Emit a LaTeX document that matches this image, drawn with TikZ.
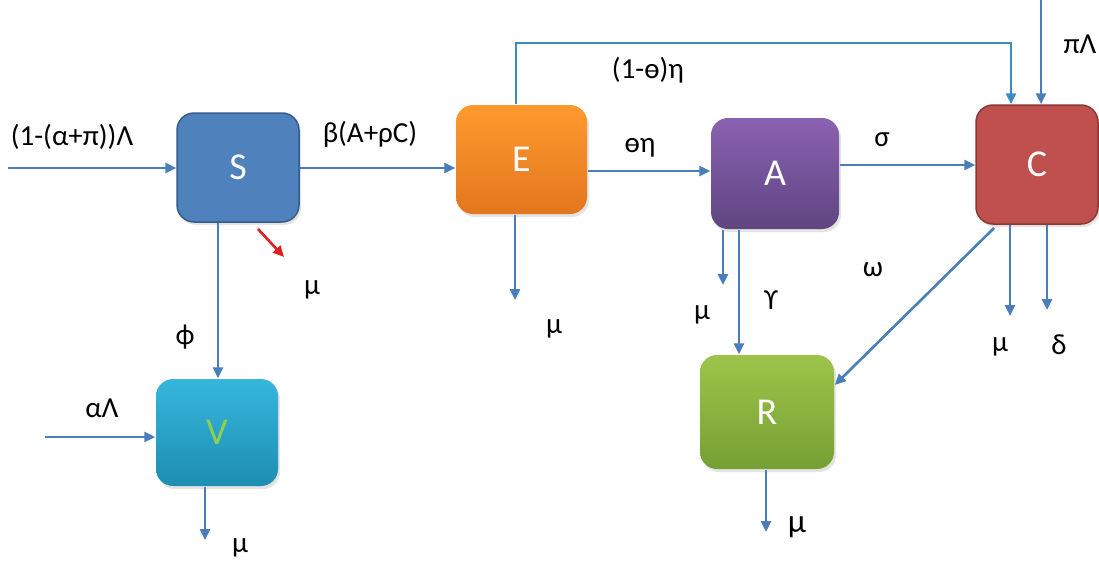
\documentclass[tikz,border=0pt]{standalone}
\usepackage{fontspec}
\setmainfont{Carlito}
\usetikzlibrary{arrows.meta,shadows}
\definecolor{ln}{HTML}{4A7EBB}
\definecolor{lnt}{HTML}{3B8CC0}
\definecolor{redar}{HTML}{E41E1E}
\definecolor{sfill}{HTML}{4F81BD}
\definecolor{sdraw}{HTML}{385D8A}
\definecolor{etop}{HTML}{FF9A2E}
\definecolor{ebot}{HTML}{E2761E}
\definecolor{atop}{HTML}{8A62B2}
\definecolor{abot}{HTML}{5E4580}
\definecolor{cfill}{HTML}{C0504D}
\definecolor{cdraw}{HTML}{8C3836}
\definecolor{rtop}{HTML}{9DC449}
\definecolor{rbot}{HTML}{76A034}
\definecolor{vtop}{HTML}{36B6DC}
\definecolor{vbot}{HTML}{1E8EB2}
\definecolor{vtext}{HTML}{8ED04E}
\begin{document}
\begin{tikzpicture}[x=1pt,y=-1pt,
  box/.style={rounded corners=17pt, line width=1.5pt, text=white,
    font=\fontsize{38}{38}\selectfont, inner sep=0pt,
    drop shadow={shadow xshift=2pt,shadow yshift=-3pt,opacity=0.22}},
  arr/.style={draw=ln, line width=2.6pt, -{Triangle[length=11pt,width=10pt]}},
  lbl/.style={font=\fontsize{29}{29}\selectfont, text=black, inner sep=0pt}]
\useasboundingbox[fill=white] (0,0) rectangle (1099,562);

% compartments
\node[box, draw=sdraw, fill=sfill, minimum width=122pt, minimum height=109pt] (S) at (238,167.5) {S};
\node[box, draw=none, top color=etop, bottom color=ebot, minimum width=131pt, minimum height=109pt] (E) at (521.5,159.5) {E};
\node[box, draw=none, top color=atop, bottom color=abot, minimum width=128pt, minimum height=111pt] (A) at (775,173.5) {A};
\node[box, draw=cdraw, fill=cfill, minimum width=122pt, minimum height=119pt] (C) at (1037,164.5) {C};
\node[box, draw=none, top color=rtop, bottom color=rbot, minimum width=134pt, minimum height=114pt] (R) at (767,412) {R};
\node[box, draw=none, top color=vtop, bottom color=vbot, minimum width=122pt, minimum height=107pt, text=vtext] (V) at (217,432.5) {V};

% free ends
\coordinate (inS) at (8,168);
\coordinate (inV) at (45,437);
\coordinate (inC) at (1041,0);
\coordinate (mS) at (284,257);
\coordinate (mE) at (515,300);
\coordinate (mA) at (723,285);
\coordinate (mC) at (1010,316);
\coordinate (dC) at (1047,310);
\coordinate (mR) at (766,532);
\coordinate (mV) at (205,540);

% connectors
\draw[arr] (inS) -- (inS -| S.west);
\draw[arr] (S.east |- 0,168) -- (E.west |- 0,168);
\draw[arr] (E.east |- 0,171) -- (A.west |- 0,171);
\draw[arr] (A.east |- 0,165) -- (C.west |- 0,165);
\draw[arr, draw=lnt] (E.north -| 516,0) -- (516,43) -- (1011,43) -- (C.north -| 1011,0);
\draw[arr] (inC) -- (inC |- C.north);
\draw[arr] (inV) -- (inV -| V.west);
\draw[arr] (S.south -| 218,0) -- (V.north -| 218,0);
\draw[arr, draw=redar] (258,229) -- (mS);
\draw[arr] (V.south -| mV) -- (mV);
\draw[arr] (E.south -| mE) -- (mE);
\draw[arr] (A.south -| mA) -- (mA);
\draw[arr] (A.south -| 739,0) -- (R.north -| 739,0);
\draw[arr] (994,228) -- (R.east |- 0,385);
\draw[arr] (C.south -| mC) -- (mC);
\draw[arr] (C.south -| dC) -- (dC);
\draw[arr] (R.south -| mR) -- (mR);

% labels
\node[lbl] (l1) at (72,137) {(1-(α+π))Λ};
\node[lbl] (l2) at (370,134) {β(A+ρC)};
\node[lbl] (l3) at (640,148) {ɵη};
\node[lbl] (l4) at (648,70) {(1-ɵ)η};
\node[lbl] (l5) at (1080,44) {πΛ};
\node[lbl] (l6) at (882,140) {σ};
\node[lbl] (l7) at (702,315) {μ};
\node[lbl] (l8) at (771,300) {ϒ};
\node[lbl] (l9) at (873,270) {ω};
\node[lbl] (l10) at (1000,347) {μ};
\node[lbl] (l11) at (1059,345) {δ};
\node[lbl, font=\fontsize{33}{33}\selectfont] (l12) at (797,527) {μ};
\node[lbl] (l13) at (554,329) {μ};
\node[lbl] (l14) at (185,337) {ϕ};
\node[lbl] (l15) at (312,290) {μ};
\node[lbl] (l16) at (102,408) {αΛ};
\node[lbl] (l17) at (240,548) {μ};
\end{tikzpicture}
\end{document}
